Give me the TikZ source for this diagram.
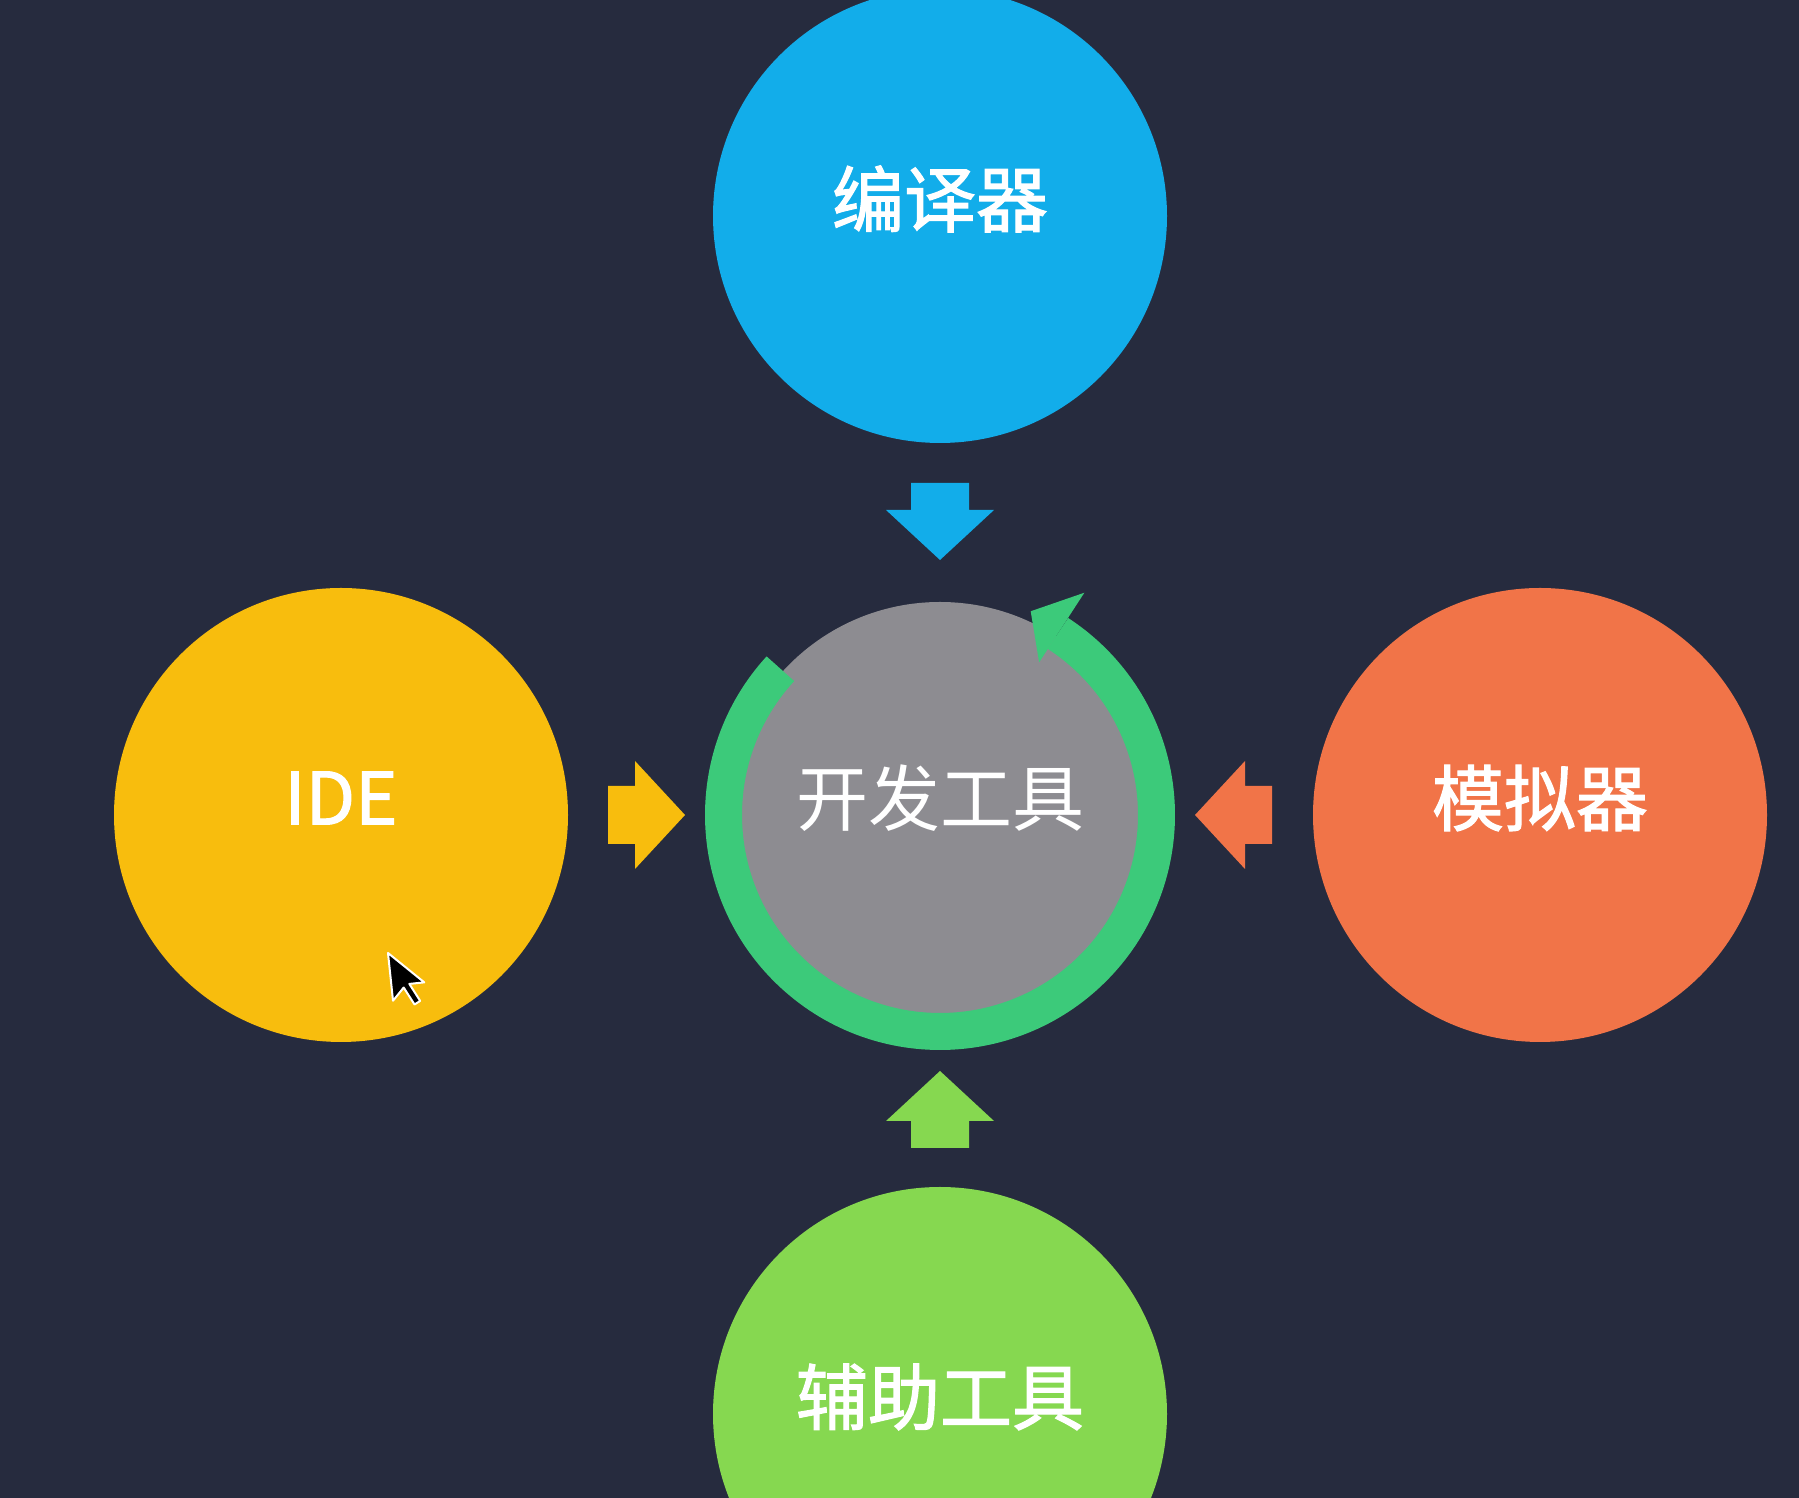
\documentclass[tikz,border=0pt]{standalone}
\usepackage{fontspec}
\setmainfont{Noto Sans CJK SC}
\newfontfamily\lblfont{Noto Sans CJK SC}[FakeBold=1.6]
\usetikzlibrary{calc}
\definecolor{bg}{RGB}{38,43,62}
\definecolor{cblue}{RGB}{18,173,234}
\definecolor{cyellow}{RGB}{248,189,13}
\definecolor{corange}{RGB}{241,116,72}
\definecolor{cgreen}{RGB}{134,216,80}
\definecolor{cgray}{RGB}{141,140,145}
\definecolor{cring}{RGB}{60,202,122}
\begin{document}
\begin{tikzpicture}[x=1pt,y=1pt,
  bubble/.style={circle, inner sep=0pt, minimum size=454pt},
  lbl/.style={text=white, font=\lblfont\fontsize{72}{86}\selectfont, inner sep=0pt},
  corelbl/.style={text=white, font=\fontsize{72}{86}\selectfont, inner sep=0pt},
  fatarrow/.pic={\path[pic actions] (0,-29) -- (27,-29) -- (27,-54) -- (77,0) -- (27,54) -- (27,29) -- (0,29) -- cycle;}
]
\useasboundingbox (0,0) rectangle (1799,1498);
\clip (0,0) rectangle (1799,1498);
\fill[bg] (0,0) rectangle (1799,1498);

% outer bubbles
\node[bubble, fill=cblue]   (comp) at (940,1282) {};
\node[bubble, fill=cyellow] (ide)  at (341,683)  {};
\node[bubble, fill=corange] (sim)  at (1540,683) {};
\node[bubble, fill=cgreen]  (aux)  at (940,84)   {};

% core
\node[circle, inner sep=0pt, minimum size=426pt, fill=cgray] (core) at (940,683) {};
\draw[cring, line width=37pt] ($(core.center)+(137.5:216.5)$) arc[start angle=137.5, end angle=417, radius=216.5];
\fill[cring] ($(core.center)+(57:265)$) -- ($(core.center)+(66:223)$) -- ($(core.center)+(57:182)$) -- cycle;

% labels
\node[lbl] (tcomp) at ($(comp.center)+(0,17)$) {编译器};
\node[lbl] (tide)  at ($(ide.center)+(0,17)$)  {IDE};
\node[lbl] (tsim)  at ($(sim.center)+(0,17)$)  {模拟器};
\node[lbl] (taux)  at ($(aux.center)+(0,17)$)  {辅助工具};
\node[corelbl] (tcore) at ($(core.center)+(0,17)$) {开发工具};

% arrows
\coordinate (acomp) at (940,1015);
\coordinate (aide)  at (608,683);
\coordinate (asim)  at (1272,683);
\coordinate (aaux)  at (940,350);
\pic[fill=cblue, rotate=-90]  at (acomp) {fatarrow};
\pic[fill=cyellow]            at (aide)  {fatarrow};
\pic[fill=corange, rotate=180] at (asim) {fatarrow};
\pic[fill=cgreen, rotate=90]  at (aaux)  {fatarrow};

% mouse cursor
\begin{scope}[shift={(388,545)}, rotate=6]
\filldraw[fill=black, draw=white, line width=2pt, line join=round]
  (0,0) -- (0,-48) -- (12,-36) -- (21,-54) -- (27,-51) -- (18,-33) -- (33,-33) -- cycle;
\end{scope}
\end{tikzpicture}
\end{document}
